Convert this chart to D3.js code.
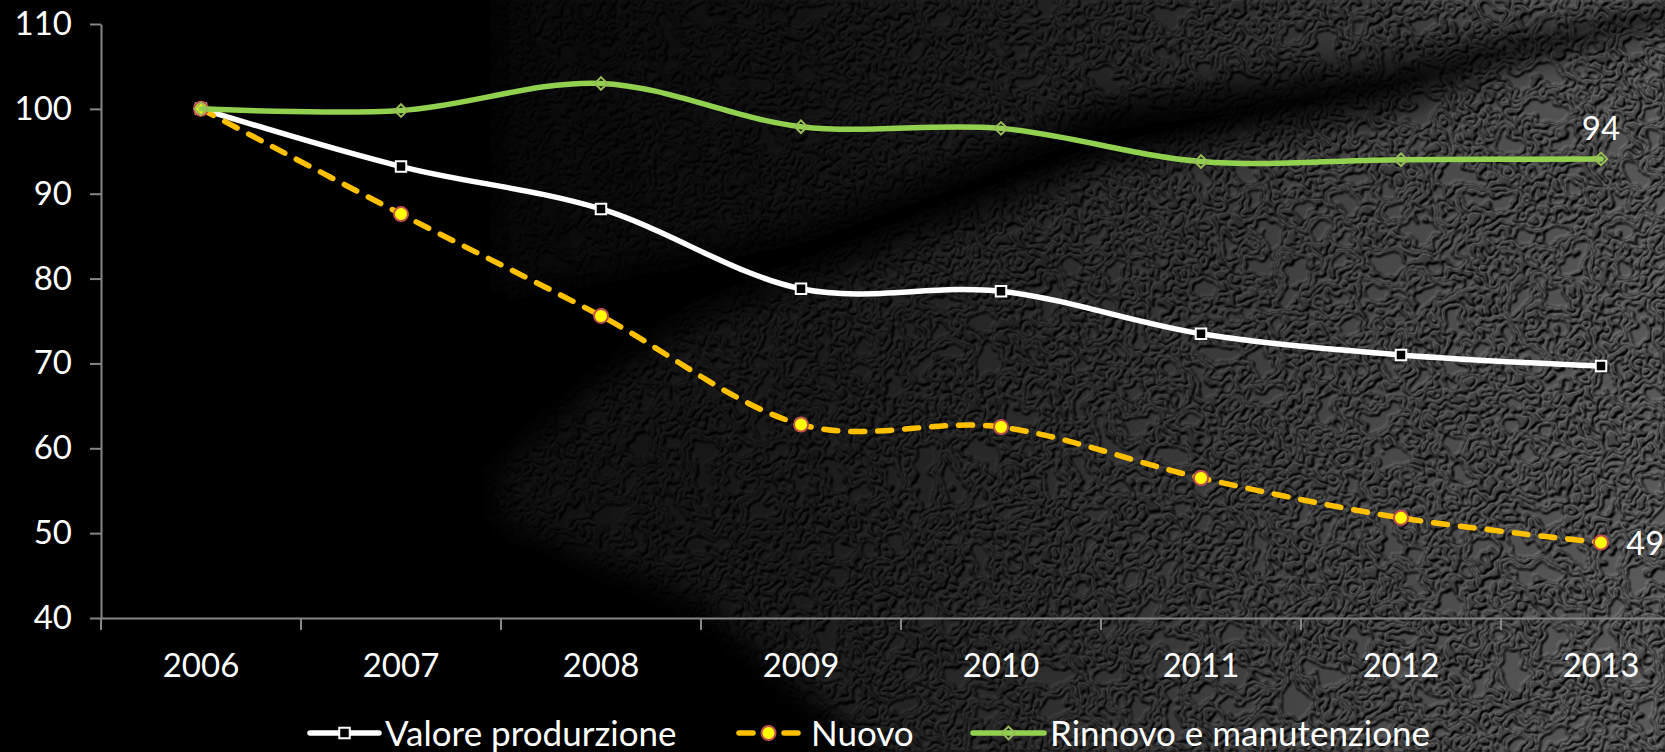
<!DOCTYPE html>
<html>
<head>
<meta charset="utf-8">
<script src="https://cdn.jsdelivr.net/npm/d3@7"></script>
<style>
  html, body { margin: 0; padding: 0; background: #000; overflow: hidden; }
  svg { display: block; }
  text { font-family: Lato, "Open Sans", sans-serif; fill: #fff; }
</style>
</head>
<body>
<svg id="chart" width="1665" height="752"></svg>
<script>
// Production index, 2006 = 100
const years = ["2006", "2007", "2008", "2009", "2010", "2011", "2012", "2013"];
const valoreProduzione = [100, 93.2, 88.2, 78.8, 78.5, 73.5, 71.0, 69.7];
const nuovo = [100, 87.6, 75.6, 62.8, 62.5, 56.5, 51.8, 48.9];
const rinnovo = [100, 99.8, 103.0, 97.9, 97.7, 93.8, 94.0, 94.1];
const yTicks = [40, 50, 60, 70, 80, 90, 100, 110];
const seriesNames = ["Valore produrzione", "Nuovo", "Rinnovo e manutenzione"];

const W = 1665, H = 752;
const svg = d3.select("#chart");
const defs = svg.append("defs");

// ---- textured leather backdrop ----
const f = defs.append("filter").attr("id", "leather")
  .attr("filterUnits", "userSpaceOnUse").attr("x", 0).attr("y", 0)
  .attr("width", W).attr("height", H)
  .attr("color-interpolation-filters", "sRGB");
f.append("feTurbulence").attr("type", "fractalNoise").attr("baseFrequency", "0.032")
  .attr("numOctaves", 3).attr("seed", 11).attr("result", "noise");
f.append("feColorMatrix").attr("in", "noise").attr("type", "matrix")
  .attr("values", "0 0 0 0 0  0 0 0 0 0  0 0 0 0 0  2.2 0 0 0 -0.6").attr("result", "a");
const ct = f.append("feComponentTransfer").attr("in", "a").attr("result", "blobs");
ct.append("feFuncA").attr("type", "discrete").attr("tableValues", "0 1 0 1 0 1 0 1 0");
f.append("feGaussianBlur").attr("in", "blobs").attr("stdDeviation", 0.9).attr("result", "bump");
const dl = f.append("feDiffuseLighting").attr("in", "bump").attr("surfaceScale", 2.4)
  .attr("diffuseConstant", 1.05).attr("lighting-color", "#7a7a7a").attr("result", "lit");
dl.append("feDistantLight").attr("azimuth", 235).attr("elevation", 55);
f.append("feFlood").attr("flood-color", "#000").attr("flood-opacity", 0.2);
f.append("feComposite").attr("in2", "blobs").attr("operator", "in").attr("result", "shade");
const fm = f.append("feMerge");
fm.append("feMergeNode").attr("in", "lit");
fm.append("feMergeNode").attr("in", "shade");

defs.append("filter").attr("id", "soft")
  .attr("x", "-20%").attr("y", "-20%").attr("width", "140%").attr("height", "140%")
  .append("feGaussianBlur").attr("stdDeviation", 14);

function grad(id, p1, p2, stops) {
  const g = defs.append("linearGradient").attr("id", id)
    .attr("gradientUnits", "userSpaceOnUse")
    .attr("x1", p1[0]).attr("y1", p1[1]).attr("x2", p2[0]).attr("y2", p2[1]);
  stops.forEach(s => g.append("stop").attr("offset", s[0]).attr("stop-color", s[1]));
}
grad("gLower", [495, 450], [1665, 560], [[0, "#242424"], [0.27, "#424242"], [0.45, "#686868"], [0.7, "#a6a6a6"], [1, "#dcdcdc"]]);
grad("gUpper", [490, 200], [1665, 0], [[0, "#141414"], [0.27, "#2c2c2c"], [0.52, "#565656"], [0.78, "#949494"], [1, "#f0f0f0"]]);

const mask = defs.append("mask").attr("id", "bgMask")
  .attr("maskUnits", "userSpaceOnUse").attr("x", 0).attr("y", 0).attr("width", W).attr("height", H);
const mg = mask.append("g").attr("filter", "url(#soft)");
mg.append("polygon")
  .attr("points", "500,470 600,385 700,322 800,285 1100,175 1400,112 1600,42 1700,15 1700,800 930,800 700,600 500,520")
  .attr("fill", "url(#gLower)");
mg.append("polygon")
  .attr("points", "500,-40 1700,-40 1700,-10 1600,12 1400,55 1100,105 800,225 500,295")
  .attr("fill", "url(#gUpper)");
// shadow fold between the two lit areas
mg.append("polyline")
  .attr("points", "470,370 700,285 1000,180 1300,105 1500,58 1700,5")
  .attr("fill", "none").attr("stroke", "#000").attr("stroke-width", 34);

svg.append("rect").attr("width", W).attr("height", H).attr("fill", "#000");
svg.append("rect").attr("width", W).attr("height", H).attr("fill", "#777")
  .attr("filter", "url(#leather)").attr("mask", "url(#bgMask)");

// ---- scales ----
const x = d3.scaleBand().domain(years).range([101, 1701]).padding(0);
const xc = d => x(d) + x.bandwidth() / 2;
const y = d3.scaleLinear().domain([40, 110]).range([618, 24]);

const axisColor = "#868686";
const labelSize = "33px";

// y axis
const gy = svg.append("g").attr("transform", "translate(101,0)")
  .call(d3.axisLeft(y).tickValues(yTicks).tickSize(11).tickSizeOuter(0).tickPadding(18));
gy.selectAll("path, line").attr("stroke", axisColor).attr("stroke-width", 2);
gy.selectAll("text").attr("fill", "#fff").style("font-size", labelSize)
  .style("font-family", "Lato, sans-serif");

// x axis: category labels centred in bands, ticks on the band boundaries
const gx = svg.append("g").attr("transform", "translate(0,618)")
  .call(d3.axisBottom(x).tickSize(0).tickSizeOuter(0).tickPadding(36));
gx.select(".domain").attr("stroke", axisColor).attr("stroke-width", 2);
gx.selectAll("text").attr("fill", "#fff").style("font-size", labelSize)
  .style("font-family", "Lato, sans-serif");
gx.selectAll(".boundary").data(years.concat(["end"])).enter().append("line")
  .attr("class", "boundary")
  .attr("x1", d => d === "end" ? x.range()[1] : x(d))
  .attr("x2", d => d === "end" ? x.range()[1] : x(d))
  .attr("y1", 0).attr("y2", 12)
  .attr("stroke", axisColor).attr("stroke-width", 2);

// ---- series ----
const line = d3.line().x((d, i) => xc(years[i])).y(d => y(d)).curve(d3.curveCardinal.tension(0));

const styles = [
  { values: valoreProduzione, color: "#ffffff", dash: null },
  { values: nuovo, color: "#FFC000", dash: "14 13" },
  { values: rinnovo, color: "#92D050", dash: null }
];

const square = d3.symbol(d3.symbolSquare, 110)();
const circle = d3.symbol(d3.symbolCircle, Math.PI * 7 * 7)();
const diamond = d3.symbol(d3.symbolSquare, 80)();

function drawMarker(g, kind, cx, cy) {
  if (kind === 0) {
    g.append("path").attr("d", square).attr("transform", `translate(${cx},${cy})`)
      .attr("fill", "#000").attr("stroke", "#fff").attr("stroke-width", 2);
  } else if (kind === 1) {
    g.append("path").attr("d", circle).attr("transform", `translate(${cx},${cy})`)
      .attr("fill", "#FFFF00").attr("stroke", "#C0504D").attr("stroke-width", 2);
  } else {
    g.append("path").attr("d", diamond).attr("transform", `translate(${cx},${cy}) rotate(45)`)
      .attr("fill", "none").attr("stroke", "#9BBB59").attr("stroke-width", 2);
  }
}

styles.forEach((s, k) => {
  const g = svg.append("g");
  const p = g.append("path").attr("d", line(s.values))
    .attr("fill", "none").attr("stroke", s.color).attr("stroke-width", 5.5)
    .attr("stroke-linecap", "round").attr("stroke-linejoin", "round");
  if (s.dash) p.attr("stroke-dasharray", s.dash);
  s.values.forEach((v, i) => drawMarker(g, k, xc(years[i]), y(v)));
});

// value labels at 2013
const last = years.length - 1;
svg.append("text").attr("x", xc(years[last])).attr("y", y(rinnovo[last]) - 19)
  .attr("text-anchor", "middle").style("font-size", labelSize)
  .text(Math.round(rinnovo[last]));
svg.append("text").attr("x", xc(years[last]) + 25).attr("y", y(nuovo[last]) + 13)
  .attr("text-anchor", "start").style("font-size", labelSize)
  .text(Math.round(nuovo[last]));

// ---- legend ----
const legendItems = [
  { x0: 310, x1: 379, tx: 385 },
  { x0: 739, x1: 798, tx: 811 },
  { x0: 973, x1: 1044, tx: 1050 }
];
const ly = 733;
legendItems.forEach((it, k) => {
  const g = svg.append("g");
  const s = styles[k];
  const p = g.append("line").attr("x1", it.x0).attr("x2", it.x1).attr("y1", ly).attr("y2", ly)
    .attr("stroke", s.color).attr("stroke-width", 5.5).attr("stroke-linecap", "round");
  if (s.dash) p.attr("stroke-dasharray", "14 31");
  drawMarker(g, k, (it.x0 + it.x1) / 2, ly);
  g.append("text").attr("x", it.tx).attr("y", 746).style("font-size", "35px").text(seriesNames[k]);
});
</script>
</body>
</html>
